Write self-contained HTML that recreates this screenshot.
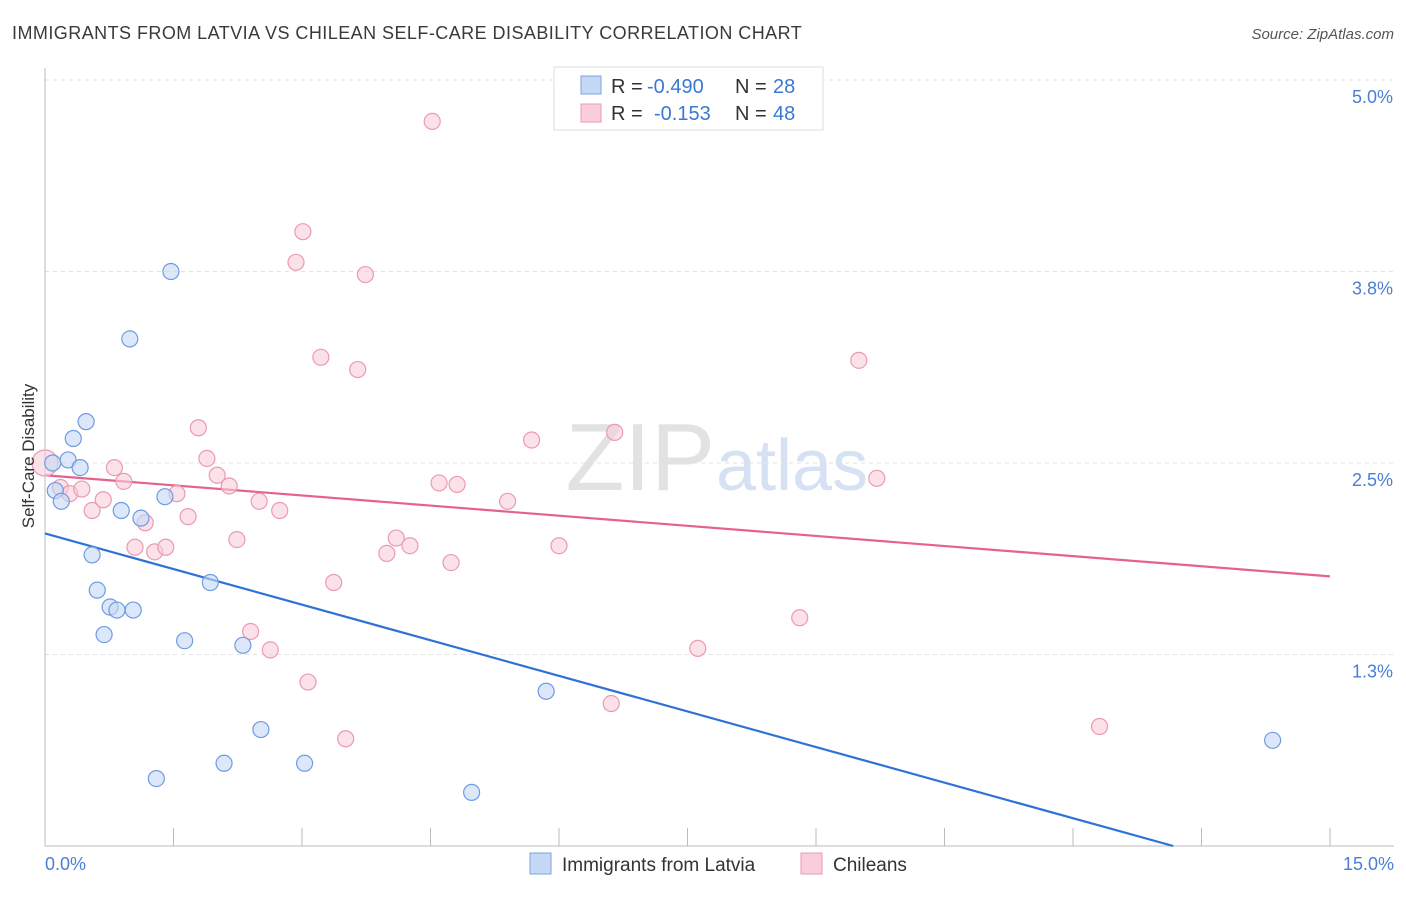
<!DOCTYPE html>
<html><head><meta charset="utf-8"><style>
body{margin:0;background:#fff;font-family:"Liberation Sans",sans-serif}
svg text{font-family:"Liberation Sans",sans-serif}
</style></head><body>
<svg id="chart" width="1406" height="892" xmlns="http://www.w3.org/2000/svg">
<text x="12" y="39" font-size="18" letter-spacing="0.45" fill="#3a3a3a">IMMIGRANTS FROM LATVIA VS CHILEAN SELF-CARE DISABILITY CORRELATION CHART</text>
<text x="1394" y="39" font-size="15" fill="#555" font-style="italic" text-anchor="end">Source: ZipAtlas.com</text>
<text x="715" y="490" font-size="96" fill="#e2e2e2" text-anchor="end" font-family="Liberation Serif">ZIP</text>
<text x="716" y="490" font-size="72" fill="#d6e2f3">atlas</text>
<g id="grid"></g><g id="axes"></g><g id="trends"></g><g id="pts"></g>
<text transform="translate(34,456) rotate(-90)" font-size="17" fill="#333" text-anchor="middle">Self-Care Disability</text>
<g>
<rect x="554" y="67" width="269" height="63" fill="#fff" stroke="#ddd"/>
<rect x="581" y="76" width="20" height="18" fill="#c5d8f5" stroke="#7aa3e0"/>
<text x="611" y="93" font-size="20" fill="#333">R =</text>
<text x="647" y="93" font-size="20" fill="#3a78d4">-0.490</text>
<text x="735" y="93" font-size="20" fill="#333">N =</text>
<text x="773" y="93" font-size="20" fill="#3a78d4">28</text>
<rect x="581" y="104" width="20" height="18" fill="#f9cdd9" stroke="#eb9ab2"/>
<text x="611" y="120" font-size="20" fill="#333">R =</text>
<text x="654" y="120" font-size="20" fill="#3a78d4">-0.153</text>
<text x="735" y="120" font-size="20" fill="#333">N =</text>
<text x="773" y="120" font-size="20" fill="#3a78d4">48</text>
</g>
<g>
<rect x="530" y="853" width="21" height="21" fill="#c5d8f5" stroke="#7aa3e0"/>
<text x="562" y="871" font-size="19" fill="#333">Immigrants from Latvia</text>
<rect x="801" y="853" width="21" height="21" fill="#f9cdd9" stroke="#eb9ab2"/>
<text x="833" y="871" font-size="19" fill="#333">Chileans</text>
</g>
</svg>
<script>
const yTicks=[1.25,2.5,3.75,5.0];
const yTickLabels=["1.3%","2.5%","3.8%","5.0%"];
const xTickLabels=["0.0%","15.0%"];
const blueX=[0.09,0.12,0.19,0.33,0.48,0.27,0.41,0.55,0.61,0.69,0.76,0.84,1.03,0.89,1.12,0.99,1.47,1.40,1.63,1.93,2.31,2.52,2.09,1.30,3.03,4.98,5.85,14.33];
const blueY=[2.50,2.32,2.25,2.66,2.77,2.52,2.47,1.90,1.67,1.38,1.56,1.54,1.54,2.19,2.14,3.31,3.75,2.28,1.34,1.72,1.31,0.76,0.54,0.44,0.54,0.35,1.01,0.69];
const pinkX=[0.0,0.18,0.29,0.43,0.55,0.68,0.81,0.92,1.05,1.17,1.28,1.41,1.54,1.67,1.79,1.89,2.01,2.15,2.24,2.50,2.74,2.40,2.63,3.07,2.93,3.01,3.22,3.37,3.51,3.65,3.74,3.99,4.10,4.26,4.52,4.60,4.74,4.81,5.40,5.68,6.00,6.65,7.62,6.61,8.81,9.50,9.71,12.31];
const pinkY=[2.50,2.34,2.30,2.33,2.19,2.26,2.47,2.38,1.95,2.11,1.92,1.95,2.30,2.15,2.73,2.53,2.42,2.35,2.00,2.25,2.19,1.40,1.28,1.07,3.81,4.01,3.19,1.72,0.70,3.11,3.73,1.91,2.01,1.96,4.73,2.37,1.85,2.36,2.25,2.65,1.96,2.70,1.29,0.93,1.49,3.17,2.40,0.78];
const blueTrend=[[0,2.04],[13.17,0]];
const pinkTrend=[[0,2.42],[15,1.76]];
const NS="http://www.w3.org/2000/svg";
const sx=v=>45+v*(1285/15);
const sy=v=>846-v*153.2;
function mk(tag,attrs,parent){const e=document.createElementNS(NS,tag);for(const k in attrs)e.setAttribute(k,attrs[k]);document.getElementById(parent).appendChild(e);return e;}
let g=mk('line',{x1:45,x2:1394,y1:80,y2:80,stroke:'#e2e2e2','stroke-dasharray':'4,4'},'grid');


yTicks.forEach((t,i)=>{
 const l=mk('line',{x1:45,x2:1394,y1:sy(t),y2:sy(t),stroke:'#e2e2e2','stroke-dasharray':'4,4'},'grid');
 
 
 const tx=mk('text',{x:1393,y:sy(t)+23,'font-size':18,fill:'#4a7fd4','text-anchor':'end'},'axes');
 tx.textContent=yTickLabels[i];
 
 
});
let ax=mk('line',{x1:45,x2:1394,y1:846,y2:846,stroke:'#bbb'},'axes');


let ay=mk('line',{x1:45,x2:45,y1:68,y2:846,stroke:'#bbb'},'axes');


for(let i=1;i<=10;i++){const t=mk('line',{x1:sx(i*1.5),x2:sx(i*1.5),y1:828,y2:846,stroke:'#bbb'},'axes');
 
 }
[[0,'start',45],[15,'end',1394]].forEach((d,i)=>{const t=mk('text',{x:d[2],y:870,'font-size':18,fill:'#4a7fd4','text-anchor':d[1]},'axes');t.textContent=xTickLabels[i];
 
 });
function pts(X,Y,fill,stroke,name){X.forEach((x,i)=>{const c=mk('circle',{cx:sx(x),cy:sy(Y[i]),r:(i===0&&name==='chilean-point')?13:8,fill:fill,'fill-opacity':0.6,stroke:stroke,'stroke-width':1.2},'pts');
 
 });}
pts(pinkX,pinkY,'#f9cdd9','#eb9ab2','chilean-point');
pts(blueX,blueY,'#c5d8f5','#6f9be0','latvia-point');
const bt=mk('line',{x1:sx(blueTrend[0][0]),y1:sy(blueTrend[0][1]),x2:sx(blueTrend[1][0]),y2:sy(blueTrend[1][1]),stroke:'#2f72d6','stroke-width':2.2},'trends');


const pt=mk('line',{x1:sx(pinkTrend[0][0]),y1:sy(pinkTrend[0][1]),x2:sx(pinkTrend[1][0]),y2:sy(pinkTrend[1][1]),stroke:'#e5628e','stroke-width':2.2},'trends');


</script>
</body></html>
